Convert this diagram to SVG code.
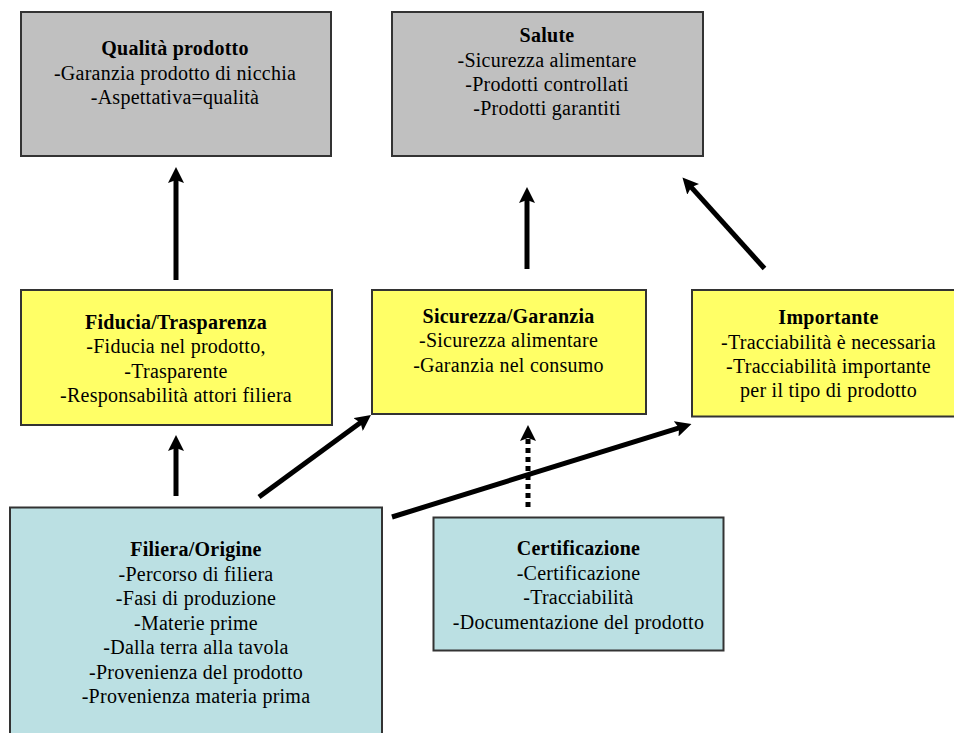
<svg xmlns="http://www.w3.org/2000/svg" width="954" height="733" viewBox="0 0 954 733">
  <style>
    .box { stroke: #333333; stroke-width: 2; }
    .gray { fill: #C0C0C0; }
    .yellow { fill: #FFFF66; }
    .cyan { fill: #BBE0E3; }
    text { font-family: "Liberation Serif", "Times New Roman", serif; font-size: 20px; letter-spacing: 0.25px; fill: #000000; text-anchor: middle; }
    .title { font-weight: bold; }
    .link { stroke: #000000; stroke-width: 5; fill: none; marker-end: url(#head); }
    .dotted { stroke-dasharray: 5 4; }
  </style>
  <defs>
    <marker id="head" viewBox="0 0 16 16" refX="4" refY="8" markerWidth="16" markerHeight="16" markerUnits="userSpaceOnUse" orient="auto">
      <path d="M0,0 L16,8 L0,16 L3,8 Z" fill="#000000"/>
    </marker>
  </defs>

  <rect width="954" height="733" fill="#FFFFFF"/>

  <g id="connectors">
    <line class="link" x1="176" y1="280" x2="176" y2="179"/>
    <line class="link" x1="527" y1="269" x2="527" y2="199"/>
    <line class="link" x1="764.5" y1="268.5" x2="690.5" y2="186.4"/>
    <line class="link" x1="176" y1="496" x2="176" y2="447"/>
    <line class="link" x1="259" y1="497" x2="361.3" y2="422.1"/>
    <line class="link" x1="392" y1="517" x2="680" y2="427.6"/>
    <line class="link dotted" x1="528" y1="507" x2="528" y2="437"/>
  </g>

  <g id="qualita">
    <rect class="box gray" x="21" y="12" width="310" height="144"/>
    <text class="title" x="175" y="55">Qualità prodotto</text>
    <text x="175" y="80">-Garanzia prodotto di nicchia</text>
    <text x="175" y="104">-Aspettativa=qualità</text>
  </g>

  <g id="salute">
    <rect class="box gray" x="392" y="12" width="311" height="144"/>
    <text class="title" x="547" y="42">Salute</text>
    <text x="547" y="66.5">-Sicurezza alimentare</text>
    <text x="547" y="90.5">-Prodotti controllati</text>
    <text x="547" y="115">-Prodotti garantiti</text>
  </g>

  <g id="fiducia">
    <rect class="box yellow" x="21" y="290" width="311" height="135"/>
    <text class="title" x="176" y="328.5">Fiducia/Trasparenza</text>
    <text x="176" y="352.5">-Fiducia nel prodotto,</text>
    <text x="176" y="377.5">-Trasparente</text>
    <text x="176" y="401.5">-Responsabilità attori filiera</text>
  </g>

  <g id="sicurezza">
    <rect class="box yellow" x="372" y="290" width="274" height="124"/>
    <text class="title" x="508.5" y="322.5">Sicurezza/Garanzia</text>
    <text x="508.5" y="346.5">-Sicurezza alimentare</text>
    <text x="508.5" y="371.5">-Garanzia nel consumo</text>
  </g>

  <g id="importante">
    <rect class="box yellow" x="692" y="290" width="274" height="126.5"/>
    <text class="title" x="828.5" y="324">Importante</text>
    <text x="828.5" y="348.5">-Tracciabilità è necessaria</text>
    <text x="828.5" y="372.5">-Tracciabilità importante</text>
    <text x="828.5" y="396.5">per il tipo di prodotto</text>
  </g>

  <g id="filiera">
    <rect class="box cyan" x="10" y="507.5" width="372" height="240"/>
    <text class="title" x="196" y="556">Filiera/Origine</text>
    <text x="196" y="580.5">-Percorso di filiera</text>
    <text x="196" y="605">-Fasi di produzione</text>
    <text x="196" y="629.5">-Materie prime</text>
    <text x="196" y="654">-Dalla terra alla tavola</text>
    <text x="196" y="678.5">-Provenienza del prodotto</text>
    <text x="196" y="703">-Provenienza materia prima</text>
  </g>

  <g id="certificazione">
    <rect class="box cyan" x="433.5" y="517.5" width="290" height="133"/>
    <text class="title" x="578.5" y="555">Certificazione</text>
    <text x="578.5" y="579.5">-Certificazione</text>
    <text x="578.5" y="603.5">-Tracciabilità</text>
    <text x="578.5" y="628.5">-Documentazione del prodotto</text>
  </g>
</svg>
